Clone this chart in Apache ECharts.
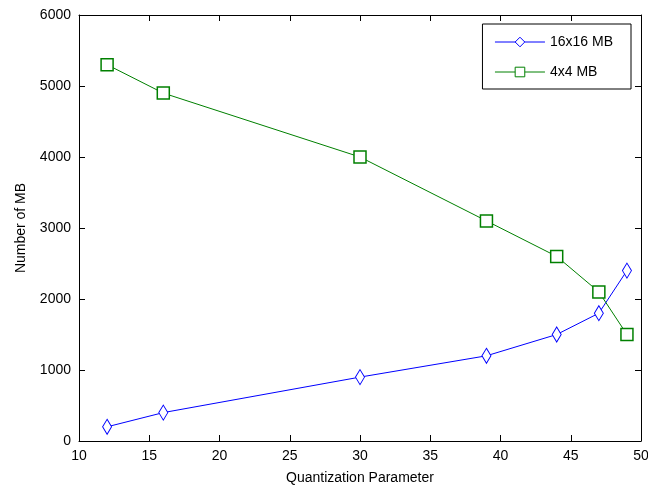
<!DOCTYPE html>
<html>
<head>
<meta charset="utf-8">
<script src="https://cdn.jsdelivr.net/npm/echarts@6/dist/echarts.min.js"></script>
<style>
  html, body { margin: 0; padding: 0; background: #fff; }
  #chart { width: 648px; height: 493px; }
</style>
</head>
<body>
<div id="chart"></div>
<script>
// data
const qp = [12, 16, 30, 39, 44, 47, 49]
const mb16 = [200, 400, 900, 1200, 1500, 1800, 2400]
const mb4 = [5300, 4900, 4000, 3100, 2600, 2100, 1500]
const seriesNames = ['16x16 MB', '4x4 MB']

const font = 'Liberation Sans, Arial, sans-serif'
const chart = echarts.init(document.getElementById('chart'))

const axisCommon = {
  axisLine: { show: true, onZero: false, lineStyle: { color: '#000', width: 1 } },
  axisTick: { show: true, inside: true, length: 6, lineStyle: { color: '#000' } },
  splitLine: { show: false }
}

const option = {
  animation: false,
  backgroundColor: '#fff',
  grid: { left: 79, right: 7, top: 15, bottom: 52, outerBoundsMode: 'none' },
  legend: {
    data: seriesNames,
    orient: 'vertical',
    right: 17,
    top: 24,
    width: 148,
    borderColor: '#000',
    borderWidth: 1,
    padding: [11, 18, 10, 12],
    itemGap: 16,
    itemWidth: 50,
    itemHeight: 12,
    lineStyle: { width: 1 },
    itemStyle: { borderWidth: 1 },
    textStyle: { fontFamily: font, fontSize: 14, color: '#000' }
  },
  xAxis: [
    {
      type: 'value', min: 10, max: 50, interval: 5,
      ...axisCommon,
      axisLabel: { color: '#000', fontFamily: font, fontSize: 14, margin: 8 },
      name: 'Quantization Parameter',
      nameLocation: 'middle',
      nameGap: 30,
      nameTextStyle: { color: '#000', fontFamily: font, fontSize: 14 }
    },
    {
      type: 'value', min: 10, max: 50, interval: 5, position: 'top',
      ...axisCommon,
      axisLabel: { show: false }
    }
  ],
  yAxis: [
    {
      type: 'value', min: 0, max: 6000, interval: 1000,
      ...axisCommon,
      axisLabel: { color: '#000', fontFamily: font, fontSize: 14, margin: 8, formatter: v => String(v) },
      name: 'Number of MB',
      nameLocation: 'middle',
      nameGap: 51,
      nameTextStyle: { color: '#000', fontFamily: font, fontSize: 14 }
    },
    {
      type: 'value', min: 0, max: 6000, interval: 1000, position: 'right',
      ...axisCommon,
      axisLabel: { show: false }
    }
  ],
  series: [
    {
      name: seriesNames[0],
      type: 'line',
      data: qp.map((x, i) => [x, mb16[i]]),
      symbol: 'diamond',
      symbolSize: [9, 15],
      color: '#0000ff',
      lineStyle: { color: '#0000ff', width: 1 },
      itemStyle: { color: '#fff', borderColor: '#0000ff', borderWidth: 1 }
    },
    {
      name: seriesNames[1],
      type: 'line',
      data: qp.map((x, i) => [x, mb4[i]]),
      symbol: 'rect',
      symbolSize: 12,
      color: '#008000',
      lineStyle: { color: '#008000', width: 1 },
      itemStyle: { color: '#fff', borderColor: '#008000', borderWidth: 1.5 }
    }
  ]
}

chart.setOption(option)
</script>
</body>
</html>
